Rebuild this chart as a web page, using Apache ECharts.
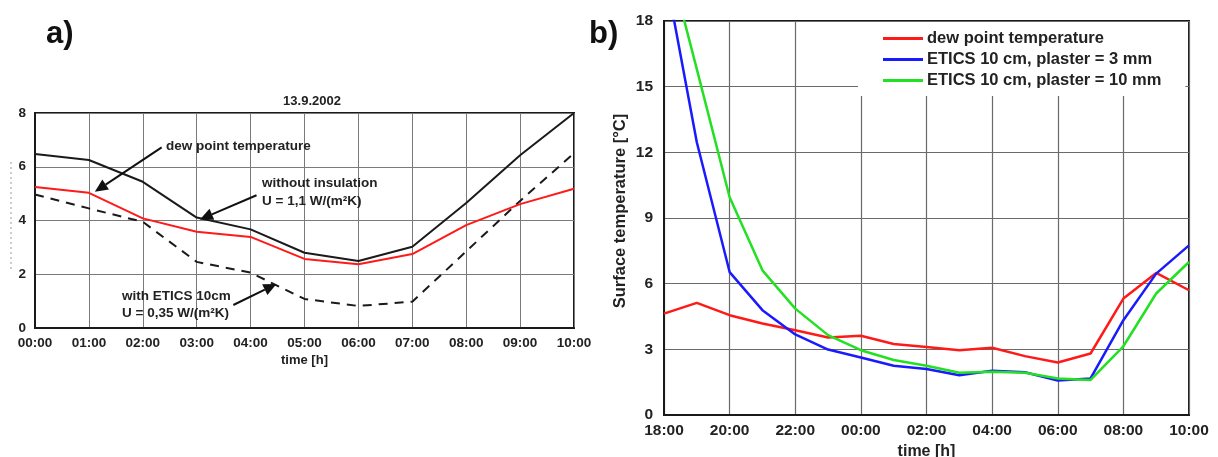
<!DOCTYPE html>
<html>
<head>
<meta charset="utf-8">
<script src="https://cdn.jsdelivr.net/npm/echarts@6/dist/echarts.min.js"></script>
<style>html,body{margin:0;padding:0;background:#fff}#c{width:1218px;height:457px}</style>
</head>
<body>
<div id="c"></div>
<script>
// ---------- Panel a) data (13.9.2002) ----------
const aHours = [0, 1, 2, 3, 4, 5, 6, 7, 8, 9, 10];
const aDewPoint = [5.25, 5.03, 4.08, 3.58, 3.39, 2.57, 2.37, 2.75, 3.83, 4.61, 5.18];
const aNoInsulation = [6.47, 6.25, 5.44, 4.11, 3.67, 2.8, 2.49, 3.02, 4.65, 6.43, 8.0];
const aWithEtics = [4.97, 4.45, 3.95, 2.46, 2.06, 1.08, 0.82, 0.98, 2.85, 4.73, 6.5];
const aYTicks = [0, 2, 4, 6, 8];
// annotation arrows in data coords [fromX, fromY, toX, toY]
const aArrows = [[2.35, 6.72, 1.11, 5.07], [4.11, 4.94, 3.06, 4.04], [3.68, 0.855, 4.48, 1.64]];

// ---------- Panel b) data (18:00 -> 10:00, hours continued past 24) ----------
const bHours = [18, 19, 20, 21, 22, 23, 24, 25, 26, 27, 28, 29, 30, 31, 32, 33, 34];
const bDewPoint = [4.63, 5.12, 4.56, 4.18, 3.87, 3.54, 3.62, 3.24, 3.11, 2.96, 3.07, 2.69, 2.4, 2.81, 5.32, 6.49, 5.7];
const bPlaster3 = [20.5, 12.46, 6.53, 4.79, 3.68, 2.99, 2.63, 2.25, 2.1, 1.82, 2.02, 1.95, 1.58, 1.67, 4.33, 6.46, 7.75];
const bPlaster10 = [21.6, 15.8, 9.95, 6.61, 4.86, 3.65, 2.96, 2.51, 2.25, 1.93, 1.98, 1.93, 1.67, 1.6, 3.14, 5.55, 6.99];
const bYTicks = [0, 3, 6, 9, 12, 15, 18];
const bNames = ['dew point temperature', 'ETICS 10 cm, plaster = 3 mm', 'ETICS 10 cm, plaster = 10 mm'];

const FONT = 'Liberation Sans, Arial, sans-serif';
const pad2 = v => (v < 10 ? '0' : '') + v;
const zip = (xs, ys) => xs.map((x, i) => [x, ys[i]]);

const chart = echarts.init(document.getElementById('c'), null, {renderer: 'canvas'});

const option = {
  backgroundColor: '#fff',
  animation: false,
  textStyle: {fontFamily: FONT},
  title: [
    {text: '13.9.2002', left: 307, top: 90, textAlign: 'center',
     textStyle: {fontSize: 13, fontWeight: 'bold', color: '#222', fontFamily: FONT}},
    {text: 'a)', left: 41, top: 14, textStyle: {fontSize: 31, fontWeight: 'bold', color: '#111', fontFamily: FONT}},
    {text: 'b)', left: 584, top: 14, textStyle: {fontSize: 31, fontWeight: 'bold', color: '#111', fontFamily: FONT}}
  ],
  legend: {
    data: bNames,
    orient: 'vertical',
    left: 858, top: 22,
    backgroundColor: '#fff',
    padding: [8, 24, 7, 25],
    itemWidth: 40, itemHeight: 3, itemGap: 4,
    icon: 'rect',
    textStyle: {fontSize: 16.5, fontWeight: 'bold', color: '#222', fontFamily: FONT, padding: [0, 0, 0, -1]},
    z: 10
  },
  grid: [
    {left: 35, top: 113, width: 539, height: 215, show: true, borderColor: '#1a1a1a', borderWidth: 2,
     containLabel: false, outerBoundsMode: 'none'},
    {left: 664, top: 21, width: 525, height: 394, show: true, borderColor: '#1a1a1a', borderWidth: 2,
     containLabel: false, outerBoundsMode: 'none'}
  ],
  xAxis: [
    {type: 'value', gridIndex: 0, min: 0, max: 10, interval: 1,
     name: 'time [h]', nameLocation: 'middle', nameGap: 26,
     nameTextStyle: {fontSize: 13, fontWeight: 'bold', color: '#222'},
     axisLine: {show: true, lineStyle: {color: '#1a1a1a', width: 2}},
     axisTick: {show: false},
     axisLabel: {formatter: v => pad2(v) + ':00', fontSize: 13.5, fontWeight: 'bold', color: '#222', margin: 8},
     splitLine: {show: true, lineStyle: {color: '#7a7a7a', width: 1}}},
    {type: 'value', gridIndex: 1, min: 18, max: 34, interval: 2,
     name: 'time [h]', nameLocation: 'middle', nameGap: 26,
     nameTextStyle: {fontSize: 16, fontWeight: 'bold', color: '#222'},
     axisLine: {show: true, lineStyle: {color: '#1a1a1a', width: 2}},
     axisTick: {show: false},
     axisLabel: {formatter: v => pad2(v % 24) + ':00', fontSize: 15.5, fontWeight: 'bold', color: '#222', margin: 8},
     splitLine: {show: true, lineStyle: {color: '#6a6a6a', width: 1.2}}}
  ],
  yAxis: [
    {type: 'value', gridIndex: 0, min: aYTicks[0], max: aYTicks[aYTicks.length - 1], interval: 2,
     axisLine: {show: true, lineStyle: {color: '#1a1a1a', width: 2}},
     axisTick: {show: false},
     axisLabel: {fontSize: 13.5, fontWeight: 'bold', color: '#222', margin: 9},
     splitLine: {show: true, lineStyle: {color: '#7a7a7a', width: 1}}},
    {type: 'value', gridIndex: 1, min: bYTicks[0], max: bYTicks[bYTicks.length - 1], interval: 3,
     name: 'Surface temperature [°C]', nameLocation: 'middle', nameGap: 35,
     nameTextStyle: {fontSize: 16.5, fontWeight: 'bold', color: '#222', padding: [0, 0, 0, 14]},
     axisLine: {show: true, lineStyle: {color: '#1a1a1a', width: 2}},
     axisTick: {show: false},
     axisLabel: {fontSize: 15.5, fontWeight: 'bold', color: '#222', margin: 11},
     splitLine: {show: true, lineStyle: {color: '#6a6a6a', width: 1.2}}}
  ],
  series: [
    {name: 'without insulation', type: 'line', xAxisIndex: 0, yAxisIndex: 0, data: zip(aHours, aNoInsulation),
     symbol: 'none', lineStyle: {color: '#1a1a1a', width: 2}, itemStyle: {color: '#1a1a1a'}, z: 3},
    {name: 'with ETICS 10cm', type: 'line', xAxisIndex: 0, yAxisIndex: 0, data: zip(aHours, aWithEtics),
     symbol: 'none', lineStyle: {color: '#1a1a1a', width: 2, type: [9, 7]}, itemStyle: {color: '#1a1a1a'}, z: 3},
    {name: 'dew point a', type: 'line', xAxisIndex: 0, yAxisIndex: 0, data: zip(aHours, aDewPoint),
     symbol: 'none', lineStyle: {color: '#ff1a1a', width: 2}, itemStyle: {color: '#ff1a1a'}, z: 4},
    {name: bNames[0], type: 'line', xAxisIndex: 1, yAxisIndex: 1, data: zip(bHours, bDewPoint),
     symbol: 'none', clip: true, lineStyle: {color: '#ff1a1a', width: 2.5}, itemStyle: {color: '#ff1a1a'}},
    {name: bNames[1], type: 'line', xAxisIndex: 1, yAxisIndex: 1, data: zip(bHours, bPlaster3),
     symbol: 'none', clip: true, lineStyle: {color: '#1a1aff', width: 2.5}, itemStyle: {color: '#1a1aff'}},
    {name: bNames[2], type: 'line', xAxisIndex: 1, yAxisIndex: 1, data: zip(bHours, bPlaster10),
     symbol: 'none', clip: true, lineStyle: {color: '#22e022', width: 2.5}, itemStyle: {color: '#22e022'}}
  ]
};
chart.setOption(option);

// annotations (text + arrows placed through the a) grid's coordinate system)
const graphics = [
  {type: 'text', left: 166, top: 139, z: 20,
   style: {text: 'dew point temperature', font: 'bold 13.5px ' + FONT, fill: '#222'}},
  {type: 'text', left: 262, top: 174, z: 20,
   style: {text: 'without insulation\nU = 1,1 W/(m²K)', font: 'bold 13.5px ' + FONT, fill: '#222', lineHeight: 18}},
  {type: 'text', left: 122, top: 288, z: 20,
   style: {text: 'with ETICS 10cm\nU = 0,35 W/(m²K)', font: 'bold 13.5px ' + FONT, fill: '#222', lineHeight: 17}},
  {type: 'line', z: 1, shape: {x1: 11, y1: 162, x2: 11, y2: 272},
   style: {stroke: '#999', lineWidth: 1, lineDash: [2, 3]}}
];
aArrows.forEach(a => {
  const p0 = chart.convertToPixel({gridIndex: 0}, [a[0], a[1]]);
  const p1 = chart.convertToPixel({gridIndex: 0}, [a[2], a[3]]);
  const dx = p1[0] - p0[0], dy = p1[1] - p0[1];
  const len = Math.sqrt(dx * dx + dy * dy);
  const ux = dx / len, uy = dy / len;
  const headL = 13, headW = 6;
  const bx = p1[0] - ux * headL, by = p1[1] - uy * headL;
  graphics.push({type: 'line', z: 15, shape: {x1: p0[0], y1: p0[1], x2: bx, y2: by},
    style: {stroke: '#111', lineWidth: 2}});
  graphics.push({type: 'polygon', z: 15, shape: {points: [
    [p1[0], p1[1]], [bx - uy * headW, by + ux * headW], [bx + uy * headW, by - ux * headW]]},
    style: {fill: '#111'}});
});
chart.setOption({graphic: graphics});
</script>
</body>
</html>
